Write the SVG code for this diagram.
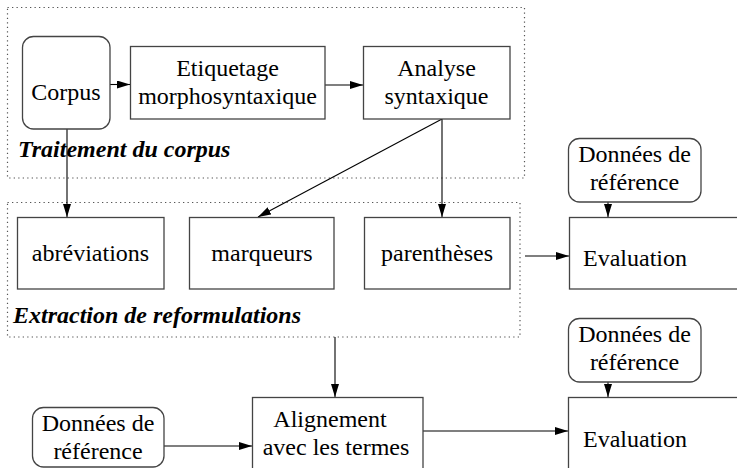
<svg xmlns="http://www.w3.org/2000/svg" width="737" height="468" viewBox="0 0 737 468">
<style>
.box{fill:#fff;stroke:#444;stroke-width:1.3}
.grp{fill:none;stroke:#555;stroke-width:1.2;stroke-dasharray:1.3 3.2}
.t{font-size:24px;fill:#000;text-anchor:middle}
.lbl{font-size:24px;font-weight:bold;font-style:italic;fill:#000}
.c{fill:none;stroke:#000;stroke-width:1.1}
</style>
<defs>
<marker id="ah" markerUnits="userSpaceOnUse" markerWidth="14" markerHeight="10" refX="13" refY="4" orient="auto">
<path d="M0,0 L13,4 L0,8 z" fill="#000"/>
</marker>
</defs>
<rect width="737" height="468" fill="#fff"/>
<g font-family="Liberation Serif, Nimbus Roman, DejaVu Serif, Times New Roman, serif">
<g id="group-traitement">
<rect class="grp" x="7.5" y="7.5" width="517" height="170.5"/>
<text class="lbl" x="18" y="157">Traitement du corpus</text>
</g>
<g id="group-extraction">
<rect class="grp" x="7.5" y="202.5" width="512.5" height="134.5"/>
<text class="lbl" x="13" y="323">Extraction de reformulations</text>
</g>
<g id="connectors">
<line class="c" x1="110" y1="84.5" x2="130" y2="84.5" marker-end="url(#ah)"/>
<line class="c" x1="325" y1="85" x2="363" y2="85" marker-end="url(#ah)"/>
<line class="c" x1="67" y1="129" x2="67" y2="217" marker-end="url(#ah)"/>
<line class="c" x1="442" y1="119" x2="258" y2="217" marker-end="url(#ah)"/>
<line class="c" x1="442" y1="119" x2="442" y2="217" marker-end="url(#ah)"/>
<line class="c" x1="525" y1="256" x2="569" y2="256" marker-end="url(#ah)"/>
<line class="c" x1="608" y1="202" x2="608" y2="217" marker-end="url(#ah)"/>
<line class="c" x1="335" y1="337" x2="335" y2="397" marker-end="url(#ah)"/>
<line class="c" x1="164" y1="446" x2="252" y2="446" marker-end="url(#ah)"/>
<line class="c" x1="423" y1="431" x2="568" y2="431" marker-end="url(#ah)"/>
<line class="c" x1="608" y1="382" x2="608" y2="397" marker-end="url(#ah)"/>
</g>
<g id="corpus">
<rect class="box" x="22.5" y="36.5" width="87.5" height="92.5" rx="11"/>
<text class="t" x="66" y="100">Corpus</text>
</g>
<g id="etiquetage">
<rect class="box" x="130.5" y="46.5" width="194.5" height="72.5"/>
<text class="t" x="227.5" y="76">Etiquetage</text>
<text class="t" x="227.5" y="104">morphosyntaxique</text>
</g>
<g id="analyse">
<rect class="box" x="363.5" y="46.5" width="146.5" height="72.5"/>
<text class="t" x="436.5" y="76">Analyse</text>
<text class="t" x="436.5" y="104">syntaxique</text>
</g>
<g id="abreviations">
<rect class="box" x="17.5" y="217.5" width="146.5" height="71.5"/>
<text class="t" x="90.5" y="261">abréviations</text>
</g>
<g id="marqueurs">
<rect class="box" x="189.5" y="217.5" width="144.5" height="71.5"/>
<text class="t" x="262" y="261">marqueurs</text>
</g>
<g id="parentheses">
<rect class="box" x="364.5" y="217.5" width="145.5" height="71.5"/>
<text class="t" x="437" y="261">parenthèses</text>
</g>
<g id="donnees-ref-1">
<rect class="box" x="568.5" y="138.5" width="132.5" height="63.5" rx="11"/>
<text class="t" x="634.5" y="162">Données de</text>
<text class="t" x="634.5" y="190">référence</text>
</g>
<g id="evaluation-1">
<rect class="box" x="569.5" y="217.5" width="180" height="71.5"/>
<text class="t" x="635" y="266">Evaluation</text>
</g>
<g id="donnees-ref-2">
<rect class="box" x="568.5" y="318.5" width="132.5" height="63.5" rx="11"/>
<text class="t" x="634.5" y="342">Données de</text>
<text class="t" x="634.5" y="370">référence</text>
</g>
<g id="evaluation-2">
<rect class="box" x="568.5" y="397.5" width="180" height="80"/>
<text class="t" x="635" y="447">Evaluation</text>
</g>
<g id="alignement">
<rect class="box" x="252.5" y="397.5" width="170.5" height="80"/>
<text class="t" x="330" y="427">Alignement</text>
<text class="t" x="336" y="455">avec les termes</text>
</g>
<g id="donnees-ref-3">
<rect class="box" x="32.5" y="407.5" width="131.5" height="59.5" rx="11"/>
<text class="t" x="98" y="431">Données de</text>
<text class="t" x="98" y="459">référence</text>
</g>
</g>
</svg>
